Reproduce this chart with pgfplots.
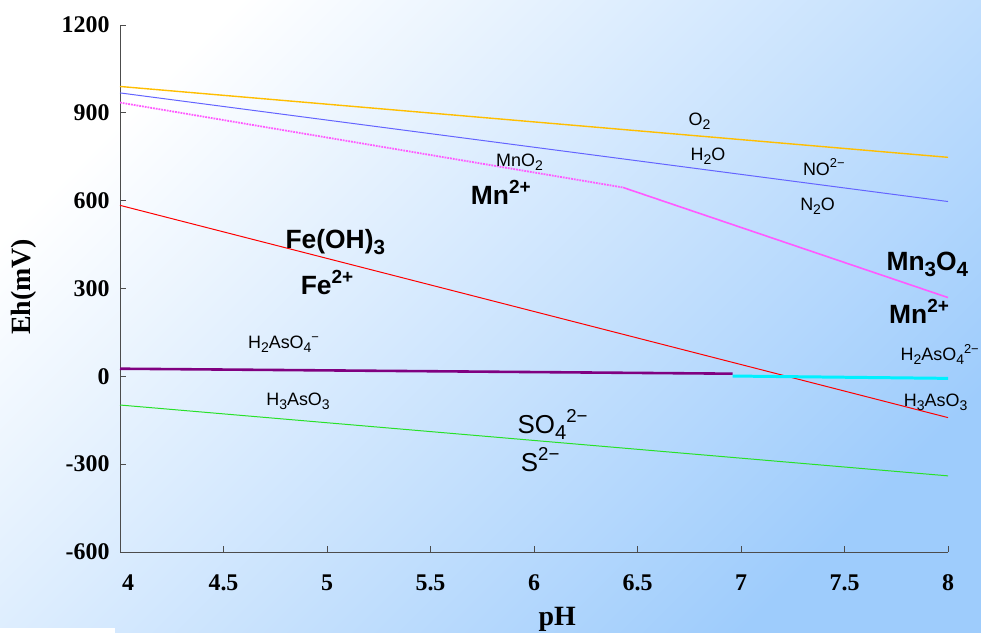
\documentclass[border=0pt]{standalone}
\usepackage{fontspec}
\usepackage{graphicx}
\setmainfont{Liberation Serif}
\newfontfamily\arial{Liberation Sans}
\usepackage{pgfplots}
\pgfplotsset{compat=1.18}
\definecolor{bgend}{RGB}{158,204,252}
\definecolor{orangeL}{RGB}{255,190,0}
\definecolor{blueL}{RGB}{100,100,255}
\definecolor{pinkL}{RGB}{255,90,255}
\definecolor{purpleL}{RGB}{128,0,128}
\definecolor{cyanL}{RGB}{0,240,255}
\definecolor{greenL}{RGB}{40,225,40}
\newcommand{\sm}{\arial\fontsize{18}{20}\selectfont}
\newcommand{\bg}{\arial\fontsize{26.5}{30}\selectfont\bfseries}
\newcommand{\md}{\arial\fontsize{26}{30}\selectfont}
\newcommand{\sub}[1]{\raisebox{-0.4ex}{\scalebox{0.78}{#1}}}
\newcommand{\sups}[1]{\raisebox{0.8ex}{\scalebox{0.72}{#1}}}
\begin{document}
\begin{tikzpicture}[x=1bp,y=1bp]
\useasboundingbox (0,0) rectangle (981,633);
\shade[top color=white, bottom color=bgend, shading angle=45] (0,0) rectangle (981,633);
\fill[white] (0,0) rectangle (115,5);
\begin{axis}[
  at={(120bp,81bp)}, anchor=south west,
  scale only axis, width=828bp, height=527bp,
  xmin=4, xmax=8, ymin=-600, ymax=1200,
  axis x line*=bottom, axis y line*=left,
  axis line style={black!70, line width=0.9pt},
  tick style={black!70, line width=0.8pt},
  tick align=inside, major tick length=6bp,
  xtick={4,4.5,5,5.5,6,6.5,7,7.5,8},
  xticklabels={\hspace*{16bp}4,4.5,5,5.5,6,6.5,7,7.5,8},
  ytick={-600,-300,0,300,600,900,1200},
  yticklabels={-600,-300,0,300,600,900,1200},
  ticklabel style={font=\fontsize{24}{28}\selectfont\bfseries},
  xticklabel style={yshift=-19bp},
  yticklabel style={xshift=-7bp},
  clip=false,
]
\addplot[orangeL, line width=1.4pt] coordinates {(4,990) (8,748)};
\addplot[blueL, line width=1pt] coordinates {(4,968) (8,597)};
\addplot[pinkL, line width=1.8pt, densely dotted] coordinates {(4,935) (6.43,645)};
\addplot[pinkL, line width=1.6pt] coordinates {(6.43,645) (8,269)};
\addplot[red, line width=1pt] coordinates {(4,584) (8,-141)};
\addplot[purpleL, line width=2.6pt] coordinates {(4,26) (6.96,9)};
\addplot[cyanL, line width=3pt] coordinates {(6.96,1) (8,-7)};
\addplot[greenL, line width=1pt] coordinates {(4,-98) (8,-340)};

\node[font=\sm] at (axis cs:6.80,871) {O\sub{2}};
\node[font=\sm] at (axis cs:6.84,752) {H\sub{2}O};
\node[font=\sm] at (axis cs:7.40,714) {NO\sups{2−}};
\node[font=\sm] at (axis cs:7.37,581) {N\sub{2}O};
\node[font=\sm] at (axis cs:5.93,731) {MnO\sub{2}};
\node[font=\bg] at (axis cs:5.84,629) {Mn\sups{2+}};
\node[font=\bg] at (axis cs:5.04,458) {Fe(OH)\sub{3}};
\node[font=\bg] at (axis cs:5.00,321) {Fe\sups{2+}};
\node[font=\bg] at (axis cs:7.90,383) {Mn\sub{3}O\sub{4}};
\node[font=\bg] at (axis cs:7.86,222) {Mn\sups{2+}};
\node[font=\sm] at (axis cs:4.79,109) {H\sub{2}AsO\sub{4}\sups{−}};
\node[font=\sm] at (axis cs:4.86,-85) {H\sub{3}AsO\sub{3}};
\node[font=\md] at (axis cs:6.09,-164) {SO\sub{4}\sups{2−}};
\node[font=\md] at (axis cs:6.03,-284) {S\sups{2−}};
\node[font=\sm] at (axis cs:7.96,75) {H\sub{2}AsO\sub{4}\sups{2−}};
\node[font=\sm] at (axis cs:7.94,-89) {H\sub{3}AsO\sub{3}};

\node[font=\fontsize{28}{32}\selectfont\bfseries, rotate=90] at (axis description cs:-0.116,0.503) {Eh(mV)};
\node[font=\fontsize{28}{32}\selectfont\bfseries] at (axis description cs:0.528,-0.127) {pH};
\end{axis}
\end{tikzpicture}
\end{document}
